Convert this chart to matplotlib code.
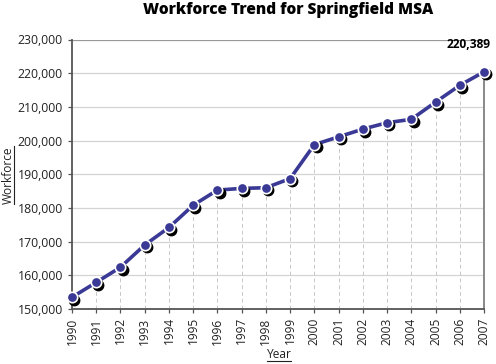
#!/usr/bin/env python3
"""
Workforce trend line for Springfield MSA, 1990-2007.
"""
import matplotlib
matplotlib.use('Agg')
import matplotlib.pyplot as plt
import matplotlib.transforms as mtransforms
from matplotlib.lines import Line2D
from matplotlib.ticker import FuncFormatter

years = list(range(1990, 2008))
workforce = [153500, 157900, 162400, 169000, 174200, 180800, 185300, 185800, 186000,
             188700, 198800, 201100, 203400, 205300, 206300, 211400, 216400, 220389]
y_ticks = list(range(150000, 230001, 10000))

plt.rcParams['font.family'] = ['Open Sans', 'DejaVu Sans']

line_color = '#3a3a96'
grid_color = '#d4d4d4'
axis_color = '#555555'


def underline(fig, txt, vertical=False):
    # matplotlib has no underline, so draw a thin line under the text box
    fig.canvas.draw()
    bb = txt.get_window_extent().transformed(fig.transFigure.inverted())
    if vertical:
        x = bb.x1 - 1.0 / 496
        fig.add_artist(Line2D([x, x], [bb.y0, bb.y1], color='#222222', lw=0.8))
    else:
        y = bb.y0 + 1.0 / 364
        fig.add_artist(Line2D([bb.x0, bb.x1], [y, y], color='#222222', lw=0.8))


def main():
    fig = plt.figure(figsize=(4.96, 3.64), dpi=100)
    ax = fig.add_axes([72 / 496, 1 - 309 / 364, 412 / 496, 269.5 / 364])

    ax.set_xlim(years[0], years[-1])
    ax.set_ylim(y_ticks[0], y_ticks[-1])

    # horizontal grid
    for yt in y_ticks[1:-1]:
        ax.axhline(yt, color=grid_color, lw=0.9, zorder=1)
    ax.axhline(y_ticks[-1], color='#999999', lw=0.9, zorder=1)

    # drop lines from each point to the axis
    for yr, val in zip(years[1:-1], workforce[1:-1]):
        ax.plot([yr, yr], [y_ticks[0], val], color='#c8c8c8', lw=0.7,
                ls=(0, (4, 3)), zorder=1)
    ax.plot([years[-1]] * 2, [y_ticks[0], workforce[-1]], color='#888888', lw=1.4,
            zorder=1, clip_on=False)
    ax.plot([years[-1]] * 2, [y_ticks[-1], y_ticks[-1] - 1200], color='#999999', lw=0.9,
            clip_on=False)

    # line
    ax.plot(years, workforce, color=line_color, lw=2.6, zorder=3, clip_on=False,
            solid_capstyle='round')

    # shadow under markers
    shadow = mtransforms.offset_copy(ax.transData, fig=fig, x=1.6, y=-1.8, units='points')
    ax.plot(years, workforce, 'o', ms=7.5, color='black', transform=shadow, zorder=4,
            clip_on=False)
    ax.plot(years, workforce, 'o', ms=7.5, mfc=line_color, mec='white', mew=1.2,
            zorder=5, clip_on=False)

    ax.annotate('{:,}'.format(workforce[-1]), xy=(years[-1], workforce[-1]),
                xytext=(-11, 15), textcoords='offset points', ha='center', va='bottom',
                fontsize=8.6, fontweight='bold')

    # axes styling
    for side in ['top', 'right']:
        ax.spines[side].set_visible(False)
    ax.spines['left'].set_color(axis_color)
    ax.spines['bottom'].set_color(axis_color)
    ax.spines['left'].set_linewidth(1.3)
    ax.spines['bottom'].set_linewidth(1.3)

    ax.set_yticks(y_ticks)
    ax.yaxis.set_major_formatter(FuncFormatter(lambda v, p: '{:,}'.format(int(v))))
    ax.set_xticks(years)
    ax.set_xticklabels([str(y) for y in years], rotation=90)
    ax.tick_params(axis='both', colors=axis_color, labelcolor='#222222', length=3,
                   width=0.9, labelsize=8.8)
    ax.tick_params(axis='x', labelsize=8.6, pad=3)

    fig.text(288 / 496, 1 - 10 / 364, 'Workforce Trend for Springfield MSA',
             ha='center', va='center', fontsize=11.2, fontweight='heavy')
    ylab = fig.text(8 / 496, 1 - 175 / 364, 'Workforce', rotation=90,
                    ha='center', va='center', fontsize=8.6, color='#222222')
    xlab = fig.text(279 / 496, 1 - 355 / 364, 'Year',
                    ha='center', va='center', fontsize=8.6, color='#222222')
    underline(fig, ylab, vertical=True)
    underline(fig, xlab)

    plt.savefig('out.png', dpi=100)


if __name__ == "__main__":
    main()
